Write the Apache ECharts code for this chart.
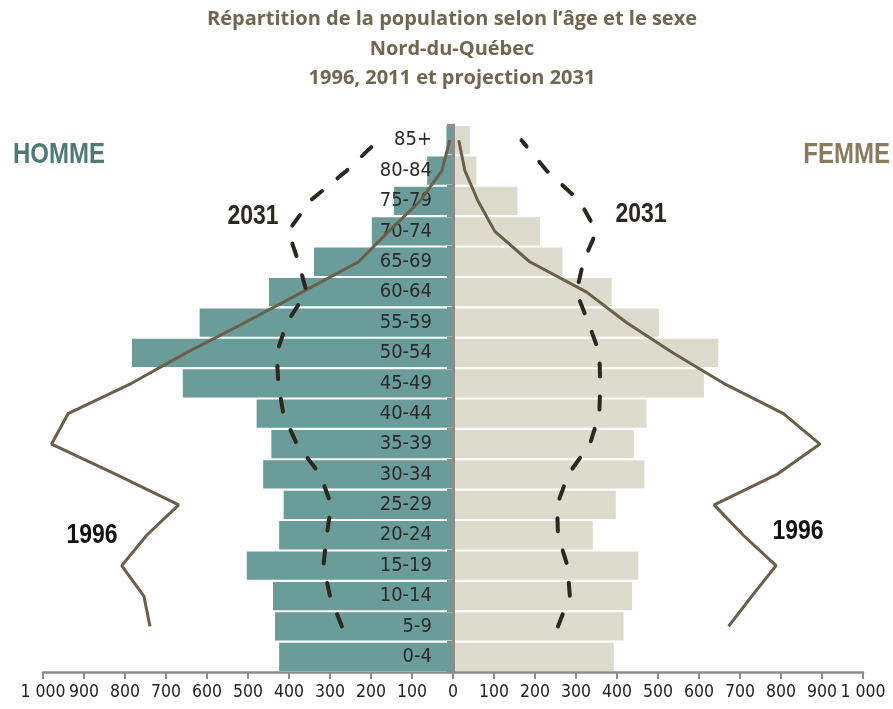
<!DOCTYPE html>
<html>
<head>
<meta charset="utf-8">
<script src="https://cdn.jsdelivr.net/npm/echarts@6/dist/echarts.min.js"></script>
<style>
html,body{margin:0;padding:0;background:#fff;}
#chart{width:893px;height:709px;}
</style>
</head>
<body>
<div id="chart"></div>
<script>
var categories = ['0-4','5-9','10-14','15-19','20-24','25-29','30-34','35-39','40-44','45-49','50-54','55-59','60-64','65-69','70-74','75-79','80-84','85+'];
// 2011 (bars)
var homme2011 = [424, 434, 439, 503, 424, 413, 463, 443, 479, 659, 783, 618, 449, 339, 198, 144, 63, 16];
var femme2011 = [392, 416, 437, 452, 341, 397, 467, 441, 472, 612, 647, 502, 387, 267, 212, 157, 57, 41];
// 1996 (solid lines)
var homme1996 = [null, 739, 754, 808, 747, 669, 822, 979, 939, 784, 651, 507, 368, 230, 157, 80, 27, 8];
var femme1996 = [null, 672, 729, 788, 708, 637, 790, 895, 806, 660, 537, 423, 326, 187, 102, 61, 29, 14];
// 2031 projection (dashed lines)
var homme2031 = [null, 271, 300, 316, 308, 297, 324, 381, 414, 426, 430, 405, 357, 377, 402, 349, 259, 182];
var femme2031 = [null, 256, 285, 279, 256, 254, 281, 334, 357, 359, 357, 330, 301, 318, 350, 309, 228, 167];

function neg(arr){ return arr.map(function(v){ return v === null ? null : -v; }); }
var cond = '"DejaVu Sans Condensed","Liberation Sans",sans-serif';
var boldNarrow = 'bold 30px "Liberation Sans", Arial, sans-serif';
var titleFont = 'bold 20px "Open Sans", Lato, sans-serif';
var dash = [13, 20];

var chart = echarts.init(document.getElementById('chart'));
chart.setOption({
  animation: false,
  backgroundColor: '#ffffff',
  grid: {left: 43, right: 30, top: 125, bottom: 37, outerBoundsMode: 'none', containLabel: false},
  xAxis: {
    type: 'value', min: -1000, max: 1000, interval: 100,
    axisLine: {show: true, lineStyle: {color: '#8c8c8c', width: 2.5}},
    axisTick: {show: true, length: 7, lineStyle: {color: '#8c8c8c', width: 2}},
    splitLine: {show: false},
    axisLabel: {
      fontFamily: cond, fontSize: 17.5, color: '#222', margin: 11,
      showMinLabel: true, showMaxLabel: true, hideOverlap: false,
      formatter: function(v){ var a = Math.abs(v); return a >= 1000 ? (Math.floor(a/1000) + ' ' + String(a%1000).padStart(3,'0')) : String(a); }
    }
  },
  yAxis: {
    type: 'category', data: categories, z: 3,
    offset: -410,
    axisLine: {show: true, onZero: false, lineStyle: {color: '#8c8c8c', width: 3}},
    axisTick: {show: true, length: 6, lineStyle: {color: '#8c8c8c', width: 2}},
    splitLine: {show: false},
    axisLabel: {fontFamily: cond, fontSize: 20, color: '#2a2a2a', margin: 21}
  },
  series: [
    {type: 'bar', name: 'Homme 2011', data: neg(homme2011), barGap: '-100%', barCategoryGap: '7%', itemStyle: {color: '#6a9c9a'}, z: 2},
    {type: 'bar', name: 'Femme 2011', data: femme2011, barGap: '-100%', barCategoryGap: '7%', itemStyle: {color: '#dcdbcc'}, z: 2},
    {type: 'line', name: 'Homme 1996', data: neg(homme1996), symbol: 'none', z: 5, lineStyle: {color: '#6b5f4a', width: 3}},
    {type: 'line', name: 'Femme 1996', data: femme1996, symbol: 'none', z: 5, lineStyle: {color: '#6b5f4a', width: 3}},
    {type: 'line', name: 'Homme 2031', data: neg(homme2031), symbol: 'none', z: 6, lineStyle: {color: '#2b2820', width: 4, type: dash, cap: 'round'}},
    {type: 'line', name: 'Femme 2031', data: femme2031, symbol: 'none', z: 6, lineStyle: {color: '#2b2820', width: 4, type: dash, cap: 'round'}}
  ],
  graphic: [
    {type: 'text', x: 452, y: 19, style: {text: 'Répartition de la population selon l’âge et le sexe', font: titleFont, fill: '#71664f', align: 'center', verticalAlign: 'middle'}},
    {type: 'text', x: 452, y: 49, style: {text: 'Nord-du-Québec', font: titleFont, fill: '#71664f', align: 'center', verticalAlign: 'middle'}},
    {type: 'text', x: 452, y: 78, style: {text: '1996, 2011 et projection 2031', font: titleFont, fill: '#71664f', align: 'center', verticalAlign: 'middle'}},
    {type: 'text', x: 13, y: 155, scaleX: 0.8, style: {text: 'HOMME', font: boldNarrow, fill: '#4d7977', align: 'left', verticalAlign: 'middle'}},
    {type: 'text', x: 890, y: 155, scaleX: 0.8, style: {text: 'FEMME', font: boldNarrow, fill: '#8a7a5e', align: 'right', verticalAlign: 'middle'}},
    {type: 'text', x: 253, y: 216, scaleX: 0.82, style: {text: '2031', font: 'bold 28px "Liberation Sans", Arial, sans-serif', fill: '#2b2820', align: 'center', verticalAlign: 'middle'}},
    {type: 'text', x: 641, y: 214, scaleX: 0.82, style: {text: '2031', font: 'bold 28px "Liberation Sans", Arial, sans-serif', fill: '#2b2820', align: 'center', verticalAlign: 'middle'}},
    {type: 'text', x: 92, y: 535, scaleX: 0.82, style: {text: '1996', font: 'bold 28px "Liberation Sans", Arial, sans-serif', fill: '#111111', align: 'center', verticalAlign: 'middle'}},
    {type: 'text', x: 798, y: 531, scaleX: 0.82, style: {text: '1996', font: 'bold 28px "Liberation Sans", Arial, sans-serif', fill: '#111111', align: 'center', verticalAlign: 'middle'}}
  ]
});
</script>
</body>
</html>
